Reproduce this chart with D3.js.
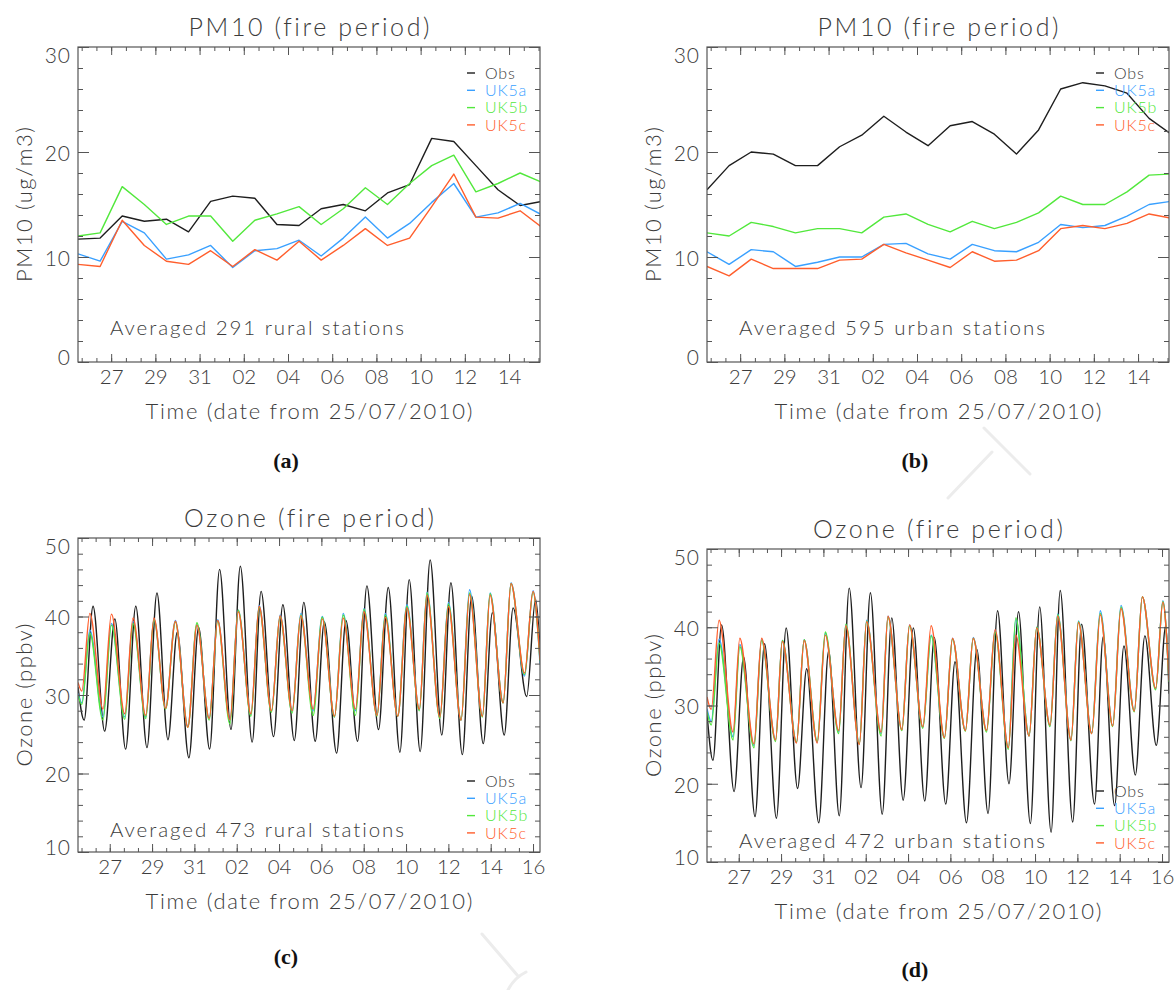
<!DOCTYPE html>
<html>
<head>
<meta charset="utf-8">
<script src="https://cdn.jsdelivr.net/npm/d3@7"></script>
<style>
  body { margin: 0; background: #fff; }
  text { font-variant-ligatures: none; }
</style>
</head>
<body>
<svg id="chart" width="1174" height="990"></svg>
<script>
// Daily PM10 means (days counted from 1 July, plotted at noon)
const pmDays = [25.5, 26.5, 27.5, 28.5, 29.5, 30.5, 31.5, 32.5, 33.5, 34.5, 35.5,
                36.5, 37.5, 38.5, 39.5, 40.5, 41.5, 42.5, 43.5, 44.5, 45.5, 46.5];

const pmRuralObs = [11.7, 11.8, 13.9, 13.4, 13.6, 12.4, 15.3, 15.8, 15.6, 13.1, 13.0, 14.6, 15.0, 14.4, 16.1, 16.9, 21.3, 21.0, 18.7, 16.4, 14.9, 15.3];
const pmRuralA   = [10.3, 9.6, 13.4, 12.3, 9.8, 10.2, 11.1, 9.0, 10.6, 10.8, 11.6, 10.1, 11.8, 13.8, 11.8, 13.2, 15.2, 17.0, 13.8, 14.2, 15.1, 14.0];
const pmRuralB   = [12.0, 12.3, 16.7, 15.0, 13.1, 13.9, 13.9, 11.5, 13.5, 14.1, 14.8, 13.1, 14.6, 16.6, 15.0, 17.0, 18.7, 19.7, 16.2, 17.0, 18.0, 17.1];
const pmRuralC   = [9.3, 9.1, 13.5, 11.1, 9.6, 9.3, 10.6, 9.1, 10.7, 9.7, 11.5, 9.7, 11.1, 12.7, 11.1, 11.8, 14.8, 17.9, 13.8, 13.7, 14.4, 12.8];

const pmUrbanObs = [16.4, 18.7, 20.0, 19.8, 18.7, 18.7, 20.5, 21.6, 23.4, 21.9, 20.6, 22.5, 22.9, 21.7, 19.8, 22.1, 26.0, 26.6, 26.3, 25.6, 23.2, 21.7];
const pmUrbanA   = [10.5, 9.3, 10.7, 10.5, 9.1, 9.5, 10.0, 10.0, 11.2, 11.3, 10.3, 9.8, 11.2, 10.6, 10.5, 11.4, 13.1, 12.8, 13.0, 13.9, 15.0, 15.3];
const pmUrbanB   = [12.3, 12.0, 13.3, 12.9, 12.3, 12.7, 12.7, 12.3, 13.8, 14.1, 13.1, 12.4, 13.4, 12.7, 13.3, 14.2, 15.8, 15.0, 15.0, 16.2, 17.8, 17.9];
const pmUrbanC   = [9.1, 8.2, 9.8, 8.9, 8.9, 8.9, 9.7, 9.8, 11.2, 10.4, 9.7, 9.0, 10.5, 9.6, 9.7, 10.6, 12.7, 13.0, 12.7, 13.2, 14.1, 13.7];

// Hourly ozone, kept as the daily turning points (time in days, value in ppbv)
const ozRuralObsT = [25.5, 25.79, 26.21, 26.76, 27.24, 27.75, 28.23, 28.76, 29.23, 29.75, 30.19, 30.74, 31.2, 31.72, 32.19, 32.73,
  33.17, 33.73, 34.15, 34.74, 35.18, 35.72, 36.17, 36.71, 37.14, 37.72, 38.16, 38.71, 39.15, 39.7, 40.16, 40.71,
  41.15, 41.67, 42.14, 42.69, 43.12, 43.66, 44.1, 44.65, 45.08, 45.64, 46.06, 46.7, 47.12, 47.33];
const ozRuralObs = [31.0, 26.8, 41.3, 25.4, 39.7, 23.1, 41.3, 23.3, 43.0, 24.3, 38.0, 22.0, 38.6, 23.1, 46.0, 25.6,
  46.4, 24.0, 43.2, 24.7, 41.5, 24.2, 41.8, 24.1, 39.3, 22.6, 39.5, 24.1, 43.9, 25.6, 43.7, 22.7,
  44.7, 22.8, 47.2, 24.9, 44.3, 22.4, 42.6, 23.8, 40.5, 24.9, 41.1, 29.8, 42.2, 36.0];

const ozRuralModT = [25.5, 25.68, 26.06, 26.68, 27.08, 27.71, 28.1, 28.7, 29.09, 29.64, 30.1, 30.69, 31.12, 31.7, 32.1, 32.68,
  33.07, 33.67, 34.06, 34.64, 35.05, 35.62, 36.03, 36.61, 37.04, 37.62, 38.03, 38.61, 39.01, 39.63, 40.02, 40.61,
  41.04, 41.63, 41.99, 42.6, 43.0, 43.6, 44.0, 44.61, 44.97, 45.59, 45.96, 46.6, 47.0, 47.33];
const ozRuralA = [30.2, 29.0, 38.3, 27.2, 39.1, 27.2, 39.4, 27.2, 39.7, 28.3, 39.5, 26.0, 39.0, 27.0, 39.6, 26.7,
  40.8, 27.5, 41.4, 27.9, 40.2, 27.9, 40.4, 28.0, 40.0, 27.2, 40.4, 28.0, 41.0, 27.4, 40.4, 27.3,
  41.5, 28.1, 43.1, 27.1, 41.8, 26.8, 43.4, 27.3, 43.0, 29.0, 44.3, 32.4, 43.3, 34.0];
const ozRuralB = [30.0, 28.8, 37.9, 26.8, 38.9, 26.9, 39.1, 27.0, 39.6, 28.2, 39.3, 25.9, 39.2, 26.8, 39.4, 26.3,
  40.8, 27.3, 41.2, 27.8, 40.0, 27.7, 40.2, 27.4, 39.9, 27.2, 40.2, 27.4, 40.9, 27.3, 40.2, 27.3,
  41.3, 28.0, 43.0, 27.0, 41.6, 26.8, 43.0, 27.2, 42.9, 29.0, 44.2, 32.6, 43.1, 34.3];
const ozRuralC = [31.6, 30.5, 40.4, 28.2, 40.3, 27.6, 39.8, 27.4, 39.8, 28.3, 39.4, 25.9, 38.9, 27.0, 39.5, 26.8,
  40.6, 27.6, 41.3, 28.0, 40.1, 28.0, 40.1, 28.2, 39.7, 27.3, 39.8, 28.2, 40.6, 27.4, 39.9, 27.3,
  41.1, 28.2, 42.7, 27.2, 41.3, 26.8, 42.8, 27.3, 42.7, 29.0, 44.2, 32.8, 43.2, 34.5];

const ozUrbanObsT = [25.5, 25.78, 26.19, 26.78, 27.23, 27.77, 28.22, 28.78, 29.24, 29.78, 30.21, 30.78, 31.25, 31.75, 32.22, 32.78,
  33.22, 33.78, 34.23, 34.77, 35.25, 35.79, 36.24, 36.78, 37.22, 37.76, 38.25, 38.78, 39.23, 39.77, 40.22, 40.78,
  41.22, 41.76, 42.19, 42.78, 43.2, 43.81, 44.22, 44.76, 45.2, 45.74, 46.19, 46.73, 47.18, 47.33];
const ozUrbanObs = [29.0, 23.0, 40.3, 19.0, 36.2, 15.8, 37.9, 15.6, 39.9, 19.4, 34.7, 15.0, 37.0, 15.9, 45.0, 19.5,
  44.4, 16.1, 41.2, 17.9, 39.9, 17.8, 38.7, 17.4, 35.6, 15.0, 37.2, 16.2, 42.1, 20.0, 42.0, 14.9,
  42.6, 13.8, 44.7, 15.1, 40.4, 17.4, 38.8, 17.2, 37.6, 21.1, 38.9, 24.9, 40.2, 31.5];

const ozUrbanModT = [25.5, 25.7, 26.07, 26.73, 27.05, 27.72, 28.08, 28.74, 29.06, 29.73, 30.09, 30.71, 31.09, 31.72, 32.06, 32.7,
  33.04, 33.73, 34.05, 34.71, 35.07, 35.7, 36.09, 36.72, 37.1, 37.71, 38.08, 38.71, 39.11, 39.74, 40.09, 40.72,
  41.08, 41.71, 42.07, 42.7, 43.05, 43.68, 44.08, 44.67, 45.06, 45.69, 46.07, 46.7, 47.04, 47.33];
const ozUrbanA = [29.6, 28.0, 38.5, 26.0, 37.8, 24.9, 38.4, 25.6, 38.3, 25.3, 38.4, 25.3, 39.2, 26.6, 40.3, 25.1,
  40.9, 26.4, 41.4, 26.9, 40.3, 27.2, 39.0, 25.9, 38.6, 26.8, 38.7, 26.8, 39.6, 24.6, 41.0, 26.1,
  40.0, 27.4, 41.7, 25.6, 40.8, 26.5, 42.1, 27.4, 42.8, 29.3, 43.9, 32.1, 43.4, 33.1];
const ozUrbanB = [29.2, 27.5, 38.0, 25.6, 37.5, 24.6, 38.3, 25.4, 38.3, 25.3, 38.4, 25.4, 39.4, 26.4, 40.4, 25.1,
  40.8, 26.1, 41.3, 26.8, 40.2, 27.1, 38.9, 25.8, 38.5, 26.7, 38.6, 26.6, 39.4, 24.4, 41.2, 26.1,
  40.0, 27.3, 41.6, 25.5, 40.7, 26.4, 41.8, 27.3, 42.6, 29.2, 43.9, 32.0, 43.3, 33.0];
const ozUrbanC = [31.1, 29.5, 40.9, 26.6, 38.6, 25.1, 38.6, 25.6, 38.2, 25.2, 38.3, 25.2, 39.0, 26.8, 40.2, 25.0,
  40.7, 26.6, 41.4, 26.9, 40.3, 27.3, 40.2, 25.9, 38.6, 26.8, 38.6, 26.8, 39.7, 24.6, 39.0, 26.1,
  39.9, 27.5, 41.4, 25.6, 40.6, 26.4, 41.6, 27.4, 42.4, 29.3, 43.9, 32.2, 43.2, 33.2];

const seriesNames = ['Obs', 'UK5a', 'UK5b', 'UK5c'];
const seriesColors = ['#1e1e1e', '#39a0ff', '#52e83c', '#ff5e2c'];
const panelTitles = ['PM10 (fire period)', 'PM10 (fire period)', 'Ozone (fire period)', 'Ozone (fire period)'];
const panelNotes = ['Averaged 291 rural stations', 'Averaged 595 urban stations',
                    'Averaged 473 rural stations', 'Averaged 472 urban stations'];
const panelLetters = ['(a)', '(b)', '(c)', '(d)'];
const xTitle = 'Time (date from 25/07/2010)';

const svg = d3.select('#chart');
const axisColor = '#555';
const textColor = '#3c3c3c';
const uiFont = "Lato, 'DejaVu Sans', sans-serif";

// faint strokes of the page watermark behind the panels
const mark = svg.append('g').attr('fill', 'none').attr('stroke', '#ececec')
    .attr('stroke-width', 3).attr('stroke-linecap', 'round');
mark.append('path').attr('d', 'M948,498 L992,452 M984,428 L1030,474');
mark.append('path').attr('d', 'M482,934 L518,976 M508,990 Q514,978 526,972');

function dayLabel(d) {
    const dd = d > 31 ? d - 31 : d;
    return String(Math.round(dd)).padStart(2, '0');
}

// plain label helper; width is forced so the loose IDL lettering is kept
function label(parent, txt, size, width) {
    const t = parent.append('text')
        .style('font-family', uiFont).style('font-weight', 300)
        .attr('font-size', size).attr('fill', textColor)
        .text(txt);
    if (width) t.attr('textLength', width).attr('lengthAdjust', 'spacing');
    return t;
}

function drawPanel(p) {
    const x = d3.scaleLinear().domain(p.xDomain).range([p.left, p.left + p.width]);
    const y = d3.scaleLinear().domain(p.yDomain).range([p.top + p.height, p.top]);
    const g = svg.append('g');
    const bottom = p.top + p.height, right = p.left + p.width;

    const clipId = 'clip' + p.key;
    svg.append('clipPath').attr('id', clipId).append('rect')
        .attr('x', p.left).attr('y', p.top).attr('width', p.width).attr('height', p.height);

    // data lines
    const line = d3.line().x(d => x(d[0])).y(d => y(d[1])).curve(p.curve);
    const lines = g.append('g').attr('clip-path', `url(#${clipId})`);
    p.series.forEach((s, i) => {
        lines.append('path')
            .datum(d3.zip(s.xs, s.ys))
            .attr('d', line)
            .attr('fill', 'none')
            .attr('stroke', seriesColors[i])
            .attr('stroke-width', 1.4)
            .attr('stroke-linejoin', 'round');
    });

    // ticks, IDL style: inward, on all four sides
    const xMajor = d3.range(27, p.xDomain[1] + 0.01, 2);
    const xMinor = d3.range(27 - 4, p.xDomain[1], 2 / 3).filter(v => v > p.xDomain[0] && v < p.xDomain[1]);
    const yMajor = d3.range(p.yDomain[0], p.yDomain[1] + 0.01, 10);
    const yMinor = d3.range(p.yDomain[0], p.yDomain[1] + 0.01, p.yMinorStep);

    const addAxis = (axis, tr) => {
        const a = g.append('g').attr('transform', tr).call(axis);
        a.select('.domain').remove();
        a.selectAll('.tick line').attr('stroke', axisColor).attr('stroke-width', 1);
        return a;
    };
    addAxis(d3.axisBottom(x).tickValues(xMinor).tickSize(-4).tickFormat(''), `translate(0,${bottom})`);
    addAxis(d3.axisTop(x).tickValues(xMinor).tickSize(-4).tickFormat(''), `translate(0,${p.top})`);
    addAxis(d3.axisTop(x).tickValues(xMajor).tickSize(-8).tickFormat(''), `translate(0,${p.top})`);
    const xb = addAxis(d3.axisBottom(x).tickValues(xMajor).tickSize(-8).tickPadding(22).tickFormat(dayLabel),
        `translate(0,${bottom})`);
    xb.selectAll('text').attr('fill', textColor).attr('font-size', 20.5).attr('dy', 0)
        .style('font-family', uiFont).style('font-weight', 300);

    addAxis(d3.axisLeft(y).tickValues(yMinor).tickSize(-5).tickFormat(''), `translate(${p.left},0)`);
    addAxis(d3.axisRight(y).tickValues(yMinor).tickSize(-5).tickFormat(''), `translate(${right},0)`);
    addAxis(d3.axisRight(y).tickValues(yMajor).tickSize(-11).tickFormat(''), `translate(${right},0)`);
    const yl = addAxis(d3.axisLeft(y).tickValues(yMajor).tickSize(-11).tickPadding(7).tickFormat(d3.format('d')),
        `translate(${p.left},0)`);
    yl.selectAll('text').attr('fill', textColor).attr('font-size', 21)
        .style('font-family', uiFont).style('font-weight', 300).style('letter-spacing', '1px')
        .attr('dy', d => d === p.yDomain[1] ? '0.75em' : (d === p.yDomain[0] ? '0.1em' : '0.4em'));

    g.append('rect')
        .attr('x', p.left).attr('y', p.top).attr('width', p.width).attr('height', p.height)
        .attr('fill', 'none').attr('stroke', axisColor).attr('stroke-width', 1.2);

    // titles
    const cx = p.left + p.width / 2;
    label(g, panelTitles[p.idx], 25, p.titleW)
        .attr('x', cx - p.titleW / 2).attr('y', p.top - 11);
    label(g, xTitle, 22, 327)
        .attr('x', cx - 327 / 2).attr('y', bottom + 57);
    label(g, p.yTitle, 22, p.yTitleW)
        .attr('transform', `translate(${p.left - 54},${p.top + p.height / 2 + p.yTitleW / 2}) rotate(-90)`)
        .attr('dy', '0.35em');
    label(g, panelNotes[p.idx], 20.5, p.noteW)
        .attr('x', p.left + 32).attr('y', p.noteY);

    // legend
    seriesNames.forEach((name, i) => {
        const ly = p.legendY + i * 17.3;
        g.append('line')
            .attr('x1', right - 73).attr('x2', right - 65)
            .attr('y1', ly).attr('y2', ly)
            .attr('stroke', seriesColors[i]).attr('stroke-width', 1.4);
        label(g, name, 16, null)
            .attr('x', right - 55).attr('y', ly).attr('dy', '0.36em')
            .attr('fill', i === 0 ? textColor : seriesColors[i])
            .style('letter-spacing', '0.8px');
    });

    svg.append('text').attr('x', p.left + 208).attr('y', p.letterY)
        .attr('text-anchor', 'middle')
        .style('font-family', "'Liberation Serif', 'Times New Roman', serif").style('font-weight', 'bold')
        .attr('font-size', 22).attr('fill', '#111')
        .text(panelLetters[p.idx]);
}

const pmDomain = [25.5, 46.4];
const ozDomain = [25.5, 47.33];

drawPanel({
    key: 'a', idx: 0, left: 78, top: 47, width: 462, height: 315,
    xDomain: pmDomain, yDomain: [0, 30], yMinorStep: 2, curve: d3.curveLinear,
    yTitle: 'PM10 (ug/m3)', yTitleW: 155, titleW: 241, noteW: 294,
    noteY: 335, legendY: 73, letterY: 468,
    series: [
        { xs: pmDays, ys: pmRuralObs }, { xs: pmDays, ys: pmRuralA },
        { xs: pmDays, ys: pmRuralB }, { xs: pmDays, ys: pmRuralC }
    ]
});
drawPanel({
    key: 'b', idx: 1, left: 707, top: 47, width: 462, height: 315,
    xDomain: pmDomain, yDomain: [0, 30], yMinorStep: 2, curve: d3.curveLinear,
    yTitle: 'PM10 (ug/m3)', yTitleW: 155, titleW: 241, noteW: 306,
    noteY: 335, legendY: 73, letterY: 468,
    series: [
        { xs: pmDays, ys: pmUrbanObs }, { xs: pmDays, ys: pmUrbanA },
        { xs: pmDays, ys: pmUrbanB }, { xs: pmDays, ys: pmUrbanC }
    ]
});
drawPanel({
    key: 'c', idx: 2, left: 78, top: 538, width: 462, height: 314,
    xDomain: ozDomain, yDomain: [10, 50], yMinorStep: 2, curve: d3.curveMonotoneX,
    yTitle: 'Ozone (ppbv)', yTitleW: 143, titleW: 250, noteW: 294,
    noteY: 837, legendY: 781, letterY: 964,
    series: [
        { xs: ozRuralObsT, ys: ozRuralObs }, { xs: ozRuralModT, ys: ozRuralA },
        { xs: ozRuralModT, ys: ozRuralB }, { xs: ozRuralModT, ys: ozRuralC }
    ]
});
drawPanel({
    key: 'd', idx: 3, left: 707, top: 549, width: 462, height: 313,
    xDomain: ozDomain, yDomain: [10, 50], yMinorStep: 2, curve: d3.curveMonotoneX,
    yTitle: 'Ozone (ppbv)', yTitleW: 143, titleW: 250, noteW: 306,
    noteY: 848, legendY: 791, letterY: 977,
    series: [
        { xs: ozUrbanObsT, ys: ozUrbanObs }, { xs: ozUrbanModT, ys: ozUrbanA },
        { xs: ozUrbanModT, ys: ozUrbanB }, { xs: ozUrbanModT, ys: ozUrbanC }
    ]
});
</script>
</body>
</html>
